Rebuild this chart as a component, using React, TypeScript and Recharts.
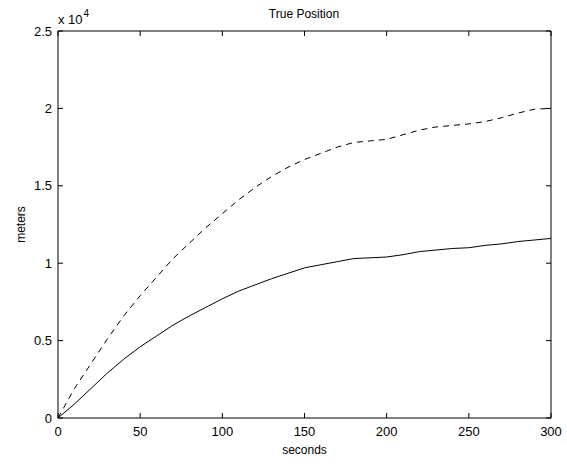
import { Customized, Label, Line, LineChart, XAxis, YAxis } from 'recharts'

const seconds = [0, 10, 20, 30, 40, 50, 60, 70, 80, 90, 100, 110, 120, 130, 140, 150, 160, 170, 180, 190, 200, 210, 220, 230, 240, 250, 260, 270, 280, 290, 300]

// meters
const solidTrack = [0, 900, 1900, 2900, 3800, 4600, 5300, 6000, 6600, 7150, 7700, 8200, 8600, 9000, 9350, 9700, 9900, 10100, 10300, 10350, 10400, 10550, 10750, 10850, 10950, 11000, 11150, 11250, 11400, 11500, 11600]
const dashedTrack = [0, 1900, 3500, 5100, 6600, 7900, 9100, 10300, 11300, 12300, 13200, 14100, 14900, 15600, 16200, 16700, 17100, 17500, 17800, 17900, 18000, 18300, 18600, 18800, 18900, 19000, 19150, 19400, 19700, 19950, 20000]

const xTicks = [0, 50, 100, 150, 200, 250, 300]
const yTicks = [0, 5000, 10000, 15000, 20000, 25000]

const data = seconds.map((t, i) => ({ t, solid: solidTrack[i], dashed: dashedTrack[i] }))

const FONT = '"Liberation Sans", Arial, sans-serif'
const TICK_LEN = 5

// matlab-style ticks: marks point into the plot
const BottomTick = ({ x, y, payload }: any) => (
  <g>
    <line x1={x} y1={y} x2={x} y2={y - TICK_LEN} stroke="#000" strokeWidth={1} />
    <text x={x} y={y + 9} dy="0.71em" textAnchor="middle" fontFamily={FONT} fontSize={13} fill="#000">
      {payload.value}
    </text>
  </g>
)

const LeftTick = ({ x, y, payload }: any) => (
  <g>
    <line x1={x} y1={y} x2={x + TICK_LEN} y2={y} stroke="#000" strokeWidth={1} />
    <text x={x - 6} y={y} dy="0.355em" textAnchor="end" fontFamily={FONT} fontSize={13} fill="#000">
      {payload.value / 10000}
    </text>
  </g>
)

const TopTick = ({ x, y }: any) => <line x1={x} y1={y} x2={x} y2={y + TICK_LEN} stroke="#000" strokeWidth={1} />
const RightTick = ({ x, y }: any) => <line x1={x} y1={y} x2={x - TICK_LEN} y2={y} stroke="#000" strokeWidth={1} />

const ScaleNote = () => (
  <text x={58} y={24} fontFamily={FONT} fontSize={13} fill="#000">
    x 10
    <tspan dx={1} dy={-7} fontSize={10}>4</tspan>
  </text>
)

export default function App() {
  return (
    <div style={{ position: 'absolute', left: 0, top: 0, width: 567, height: 464, background: '#fff' }}>
      <LineChart width={567} height={464} data={data} margin={{ top: 30, right: 15, bottom: 16, left: 18 }}>
        <XAxis
          dataKey="t"
          type="number"
          domain={[0, 300]}
          ticks={xTicks}
          height={30}
          stroke="#000"
          tick={BottomTick}
          tickLine={false}
          tickSize={0}
          tickMargin={0}
        >
          <Label value="seconds" position="bottom" offset={-3} style={{ fill: '#000', fontSize: 12, fontFamily: FONT }} />
        </XAxis>
        <XAxis
          xAxisId="top"
          orientation="top"
          dataKey="t"
          type="number"
          domain={[0, 300]}
          ticks={xTicks}
          height={1}
          stroke="#000"
          tick={TopTick}
          tickLine={false}
          tickSize={0}
          tickMargin={0}
        />
        <YAxis
          type="number"
          domain={[0, 25000]}
          ticks={yTicks}
          width={40}
          stroke="#000"
          tick={LeftTick}
          tickLine={false}
          tickSize={0}
          tickMargin={0}
        >
          <Label
            value="meters"
            angle={-90}
            position="left"
            offset={-3}
            style={{ fill: '#000', fontSize: 12, fontFamily: FONT, textAnchor: 'middle' }}
          />
        </YAxis>
        <YAxis
          yAxisId="right"
          orientation="right"
          type="number"
          domain={[0, 25000]}
          ticks={yTicks}
          width={1}
          stroke="#000"
          tick={RightTick}
          tickLine={false}
          tickSize={0}
          tickMargin={0}
        />
        <Line dataKey="dashed" stroke="#000" strokeWidth={1} strokeDasharray="6 5" dot={false} isAnimationActive={false} type="linear" />
        <Line dataKey="solid" stroke="#000" strokeWidth={1} dot={false} isAnimationActive={false} type="linear" />
        {/* invisible series so the mirrored frame axes get drawn */}
        <Line xAxisId="top" yAxisId="right" dataKey="solid" stroke="transparent" dot={false} activeDot={false} isAnimationActive={false} />
        <Customized component={ScaleNote} />
        <text x={304} y={18} textAnchor="middle" fontFamily={FONT} fontSize={12} fill="#000">
          True Position
        </text>
      </LineChart>
    </div>
  )
}
